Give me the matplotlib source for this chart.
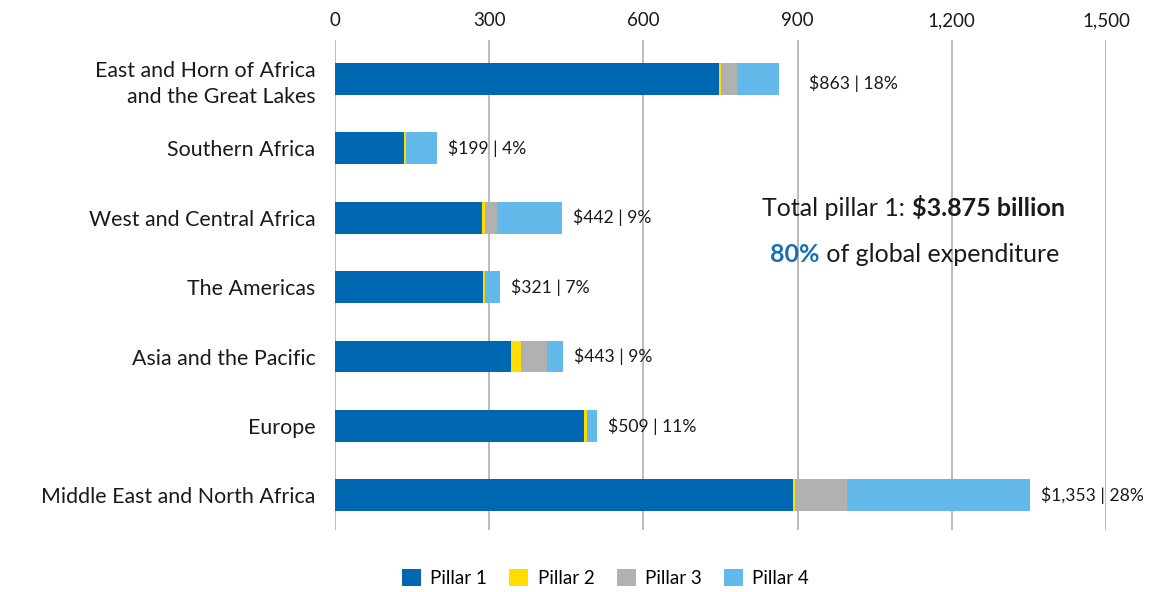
# pillar expenditure by region, stacked horizontal bars

import matplotlib.pyplot as plt

plt.rcParams['font.family'] = ['Lato', 'DejaVu Sans']
plt.rcParams['text.parse_math'] = False

regions = ['East and Horn of Africa\nand the Great Lakes', 'Southern Africa',
           'West and Central Africa', 'The Americas', 'Asia and the Pacific',
           'Europe', 'Middle East and North Africa']
pillar1 = [747, 134, 286, 288, 342, 484, 892]
pillar2 = [4, 4, 6, 4, 20, 6, 3]
pillar3 = [31, 0, 23, 0, 50, 0, 102]
pillar4 = [81, 61, 127, 29, 31, 19, 356]
totals = [863, 199, 442, 321, 443, 509, 1353]
shares = [18, 4, 9, 7, 9, 11, 28]
series_names = ['Pillar 1', 'Pillar 2', 'Pillar 3', 'Pillar 4']
ticks = [0, 300, 600, 900, 1200, 1500]

colors = ['#0068b3', '#ffdd00', '#b1b1b1', '#63b9e9']

fig = plt.figure(figsize=(11.69, 5.92), dpi=100)
ax = fig.add_axes([0.2866, 0.1047, 0.6595, 0.8277])

ypos = list(range(len(regions)))
left = [0] * len(regions)
for vals, name, col in zip([pillar1, pillar2, pillar3, pillar4], series_names, colors):
    ax.barh(ypos, vals, left=left, height=0.46, color=col, label=name, zorder=3)
    left = [l + v for l, v in zip(left, vals)]

# value labels at the end of each bar
for i, (tot, sh) in enumerate(zip(totals, shares)):
    off = 30 if i == 0 else 11
    ax.annotate('$' + format(tot, ',') + ' | ' + str(sh) + '%', xy=(left[i], i),
                xytext=(off * 0.72, -3 if i == 0 else 0), textcoords='offset points',
                va='center', ha='left', fontsize=12.6, color='#1a1a1a')

ax.set_xlim(0, 1500)
ax.set_ylim(6.5, -0.56)
ax.set_yticks(ypos)
ax.set_yticklabels(regions, fontsize=15.4, color='#1a1a1a', linespacing=1.4)
for lab in ax.get_yticklabels()[:1]:
    lab.set_y(-0.06)
ax.set_xticks(ticks)
ax.set_xticklabels([format(t, ',') for t in ticks], fontsize=13.5, color='#1a1a1a')
ax.xaxis.tick_top()
ax.tick_params(axis='both', length=0)
ax.tick_params(axis='x', pad=8)
ax.tick_params(axis='y', pad=14)
ax.grid(axis='x', color='#b5b5b5', linewidth=1.3, zorder=0)
for s in ax.spines.values():
    s.set_visible(False)

# total annotation
t1 = fig.text(0.652, 0.635, 'Total pillar 1: ', fontsize=18, color='#1a1a1a', va='baseline')
fig.draw_without_rendering()
ax.annotate('$3.875 billion', xy=(1, 0), xycoords=t1, va='bottom', ha='left',
            fontsize=18, fontweight='bold', color='#1a1a1a')
t2 = fig.text(0.659, 0.558, '80%', fontsize=18, fontweight='bold', color='#1a6fb8', va='baseline')
ax.annotate(' of global expenditure', xy=(1, 0), xycoords=t2, va='bottom', ha='left',
            fontsize=18, color='#1a1a1a')

fig.legend(loc='center', bbox_to_anchor=(0.518, 0.023), ncol=4, frameon=False,
           fontsize=13.5, handlelength=1.0, handleheight=1.0, handletextpad=0.5,
           columnspacing=1.2)

plt.savefig('out.png', dpi=100)
